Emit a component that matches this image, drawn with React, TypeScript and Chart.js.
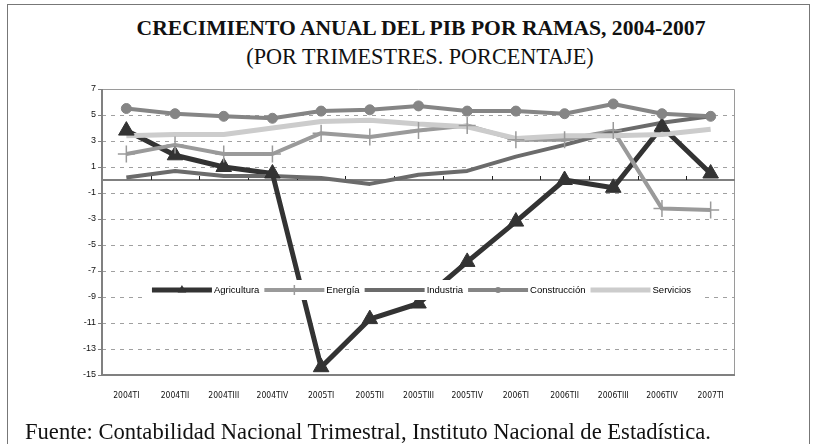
import React, { useEffect, useRef } from 'react';
import { Chart, registerables } from 'chart.js';

Chart.register(...registerables);

// ---- data ----
const categories = ['2004TI', '2004TII', '2004TIII', '2004TIV', '2005TI', '2005TII', '2005TIII', '2005TIV', '2006TI', '2006TII', '2006TIII', '2006TIV', '2007TI'];
const agricultura = [3.8, 1.9, 1.0, 0.5, -14.4, -10.7, -9.5, -6.3, -3.2, 0.0, -0.6, 4.1, 0.5];
const energia = [2.0, 2.7, 2.0, 2.0, 3.6, 3.3, 3.8, 4.2, 3.1, 3.1, 3.8, -2.2, -2.3];
const industria = [0.2, 0.7, 0.3, 0.3, 0.15, -0.3, 0.4, 0.7, 1.8, 2.7, 3.7, 4.4, 4.9];
const construccion = [5.5, 5.1, 4.9, 4.75, 5.3, 5.4, 5.7, 5.3, 5.3, 5.1, 5.85, 5.1, 4.9];
const servicios = [3.4, 3.5, 3.5, 4.0, 4.5, 4.6, 4.3, 4.1, 3.2, 3.4, 3.4, 3.5, 3.9];
const seriesNames = ['Agricultura', 'Energía', 'Industria', 'Construcción', 'Servicios'];
const yTickValues = [7, 5, 3, 1, -1, -3, -5, -7, -9, -11, -13, -15];

const titleText = 'CRECIMIENTO ANUAL DEL PIB POR RAMAS, 2004-2007';
const subtitleText = '(POR TRIMESTRES. PORCENTAJE)';
const sourceText = 'Fuente: Contabilidad Nacional Trimestral, Instituto Nacional de Estadística.';

const SERIF = '"Liberation Serif", "Times New Roman", Times, serif';
const SANS = '"Liberation Sans", Arial, Helvetica, sans-serif';
const NARROW = '"Liberation Sans Narrow", "Arial Narrow", "DejaVu Sans Condensed", "Liberation Sans", Arial, sans-serif';

type Style = { color: string; width: number; marker: string | null; r: number; lr: number };
const STYLES: Style[] = [
  { color: '#333333', width: 5, marker: 'triangle', r: 9, lr: 5 },
  { color: '#9a9a9a', width: 4, marker: 'cross', r: 8.5, lr: 5 },
  { color: '#6b6b6b', width: 4, marker: null, r: 0, lr: 0 },
  { color: '#858585', width: 4, marker: 'circle', r: 5, lr: 3 },
  { color: '#cccccc', width: 5, marker: null, r: 0, lr: 0 },
];

function drawMarker(ctx: CanvasRenderingContext2D, kind: string | null, x: number, y: number, r: number, color: string) {
  if (!kind) return;
  ctx.save();
  ctx.fillStyle = color;
  ctx.strokeStyle = color;
  ctx.beginPath();
  if (kind === 'triangle') {
    ctx.moveTo(x, y - r);
    ctx.lineTo(x + r * 0.866, y + r / 2);
    ctx.lineTo(x - r * 0.866, y + r / 2);
    ctx.closePath();
    ctx.fill();
  } else if (kind === 'circle') {
    ctx.arc(x, y, r, 0, Math.PI * 2);
    ctx.fill();
  } else if (kind === 'cross') {
    ctx.lineWidth = 1.5;
    ctx.moveTo(x, y - r);
    ctx.lineTo(x, y + r);
    ctx.moveTo(x - r, y);
    ctx.lineTo(x + r, y);
    ctx.stroke();
  }
  ctx.restore();
}

const framePlugin = {
  id: 'excelFrame',
  beforeDatasetsDraw(chart: any) {
    const { ctx, chartArea: a, scales } = chart;
    const xs = scales.x;
    const ys = scales.y;
    ctx.save();
    ctx.strokeStyle = '#9a9a9a';
    ctx.lineWidth = 1;
    ctx.beginPath();
    ctx.moveTo(a.left, a.top + 0.5);
    ctx.lineTo(a.right - 0.5, a.top + 0.5);
    ctx.lineTo(a.right - 0.5, a.bottom);
    ctx.stroke();
    ctx.strokeStyle = '#808080';
    ctx.lineWidth = 2;
    ctx.beginPath();
    ctx.moveTo(a.left, a.bottom);
    ctx.lineTo(a.right, a.bottom);
    ctx.stroke();
    ctx.beginPath();
    ctx.moveTo(a.left, a.top);
    ctx.lineTo(a.left, a.bottom + 1);
    ctx.stroke();
    const y0 = Math.round(ys.getPixelForValue(0));
    ctx.beginPath();
    ctx.moveTo(a.left, y0);
    ctx.lineTo(a.right, y0);
    ctx.stroke();
    ctx.strokeStyle = '#222222';
    ctx.lineWidth = 1;
    for (let i = 1; i < categories.length; i++) {
      const px = Math.round((xs.getPixelForValue(i - 1) + xs.getPixelForValue(i)) / 2) + 0.5;
      ctx.beginPath();
      ctx.moveTo(px, y0 - 4);
      ctx.lineTo(px, y0);
      ctx.stroke();
    }
    ctx.restore();
  },
  afterDatasetsDraw(chart: any) {
    const { ctx, chartArea: a } = chart;
    ctx.save();
    ctx.font = `9.5px ${SANS}`;
    const sample = 60;
    const gapText = 2;
    const gapItem = 5;
    const widths = seriesNames.map((n) => ctx.measureText(n).width);
    let total = 0;
    widths.forEach((w, i) => {
      total += sample + gapText + w + (i < widths.length - 1 ? gapItem : 0);
    });
    const cx = (a.left + a.right) / 2 + 3;
    const cy = a.top + 201;
    let x = cx - total / 2;
    ctx.fillStyle = '#ffffff';
    ctx.fillRect(x - 8, cy - 10, total + 20, 20);
    seriesNames.forEach((name, i) => {
      const st = STYLES[i];
      ctx.strokeStyle = st.color;
      ctx.lineWidth = st.width;
      ctx.beginPath();
      ctx.moveTo(x, cy);
      ctx.lineTo(x + sample, cy);
      ctx.stroke();
      drawMarker(ctx, st.marker, x + sample / 2, cy, st.lr, st.color);
      ctx.fillStyle = '#000000';
      ctx.textAlign = 'left';
      ctx.textBaseline = 'middle';
      ctx.fillText(name, x + sample + gapText, cy + 0.5);
      x += sample + gapText + widths[i] + gapItem;
    });
    ctx.restore();
  },
};

export default function App() {
  const ref = useRef<HTMLCanvasElement>(null);

  useEffect(() => {
    if (!ref.current) return;
    const series = [agricultura, energia, industria, construccion, servicios];
    const lineSets = series.map((d, i) => ({
      label: seriesNames[i],
      data: d,
      borderColor: STYLES[i].color,
      backgroundColor: STYLES[i].color,
      borderWidth: STYLES[i].width,
      pointRadius: 0,
      pointHoverRadius: 0,
      fill: false,
      tension: 0,
      borderJoinStyle: 'round' as const,
      order: 10 - i,
    }));
    const markerSets = series
      .map((d, i) => ({ d, i }))
      .filter(({ i }) => STYLES[i].marker)
      .map(({ d, i }) => ({
        label: seriesNames[i] + ' marker',
        data: d,
        showLine: false,
        pointStyle: STYLES[i].marker as any,
        pointRadius: STYLES[i].r,
        pointHoverRadius: STYLES[i].r,
        pointBackgroundColor: STYLES[i].color,
        pointBorderColor: STYLES[i].color,
        pointBorderWidth: STYLES[i].marker === 'cross' ? 1.5 : 1,
        borderColor: STYLES[i].color,
        backgroundColor: STYLES[i].color,
        order: 5 - i,
      }));

    const chart = new Chart(ref.current, {
      type: 'line',
      data: { labels: categories, datasets: [...lineSets, ...markerSets] as any },
      options: {
        responsive: false,
        animation: false,
        devicePixelRatio: 1,
        events: [],
        layout: { padding: { left: 0, top: 89, right: 85, bottom: 39 } },
        plugins: {
          legend: { display: false },
          tooltip: { enabled: false },
          title: { display: false },
        },
        scales: {
          x: {
            type: 'category',
            offset: true,
            grid: { display: false },
            border: { display: false },
            ticks: {
              font: { family: NARROW, size: 8.5 },
              color: '#111111',
              padding: 8,
              maxRotation: 0,
              minRotation: 0,
              autoSkip: false,
            },
            afterFit: (s: any) => {
              s.height = 30;
            },
          },
          y: {
            type: 'linear',
            min: -15,
            max: 7,
            afterBuildTicks: (s: any) => {
              s.ticks = yTickValues.map((v) => ({ value: v }));
            },
            afterFit: (s: any) => {
              s.width = 102;
            },
            ticks: {
              font: { family: SANS, size: 9 },
              color: '#111111',
              padding: 2,
            },
            grid: {
              color: (c: any) => {
                const v = c.tick ? c.tick.value : null;
                if (v === 0 || v === 7 || v === -15) return 'rgba(0,0,0,0)';
                return '#a0a0a0';
              },
              lineWidth: 1,
              tickLength: 4,
              tickColor: '#808080',
              tickWidth: 1,
            },
            border: { display: false, dash: [4, 5] },
          },
        },
      },
      plugins: [framePlugin],
    });
    return () => chart.destroy();
  }, []);

  return (
    <div style={{ position: 'absolute', left: 0, top: 0, width: 820, height: 444, overflow: 'hidden', background: '#ffffff' }}>
      <div style={{ position: 'absolute', left: 7, top: 4, width: 803, height: 470, border: '1px solid #777777', boxSizing: 'border-box' }} />
      <div style={{ position: 'absolute', left: 0, top: 18, width: 842, textAlign: 'center', font: `bold 21.6px/21px ${SERIF}`, whiteSpace: 'nowrap', color: '#111' }}>
        {titleText}
      </div>
      <div style={{ position: 'absolute', left: 0, top: 46, width: 840, textAlign: 'center', font: `22.2px/21px ${SERIF}`, whiteSpace: 'nowrap', color: '#111' }}>
        {subtitleText}
      </div>
      <canvas ref={ref} width={820} height={444} style={{ position: 'absolute', left: 0, top: 0, width: 820, height: 444 }} />
      <div style={{ position: 'absolute', left: 25, top: 421, font: `22.6px/22px ${SERIF}`, whiteSpace: 'nowrap', color: '#111' }}>
        {sourceText}
      </div>
    </div>
  );
}
